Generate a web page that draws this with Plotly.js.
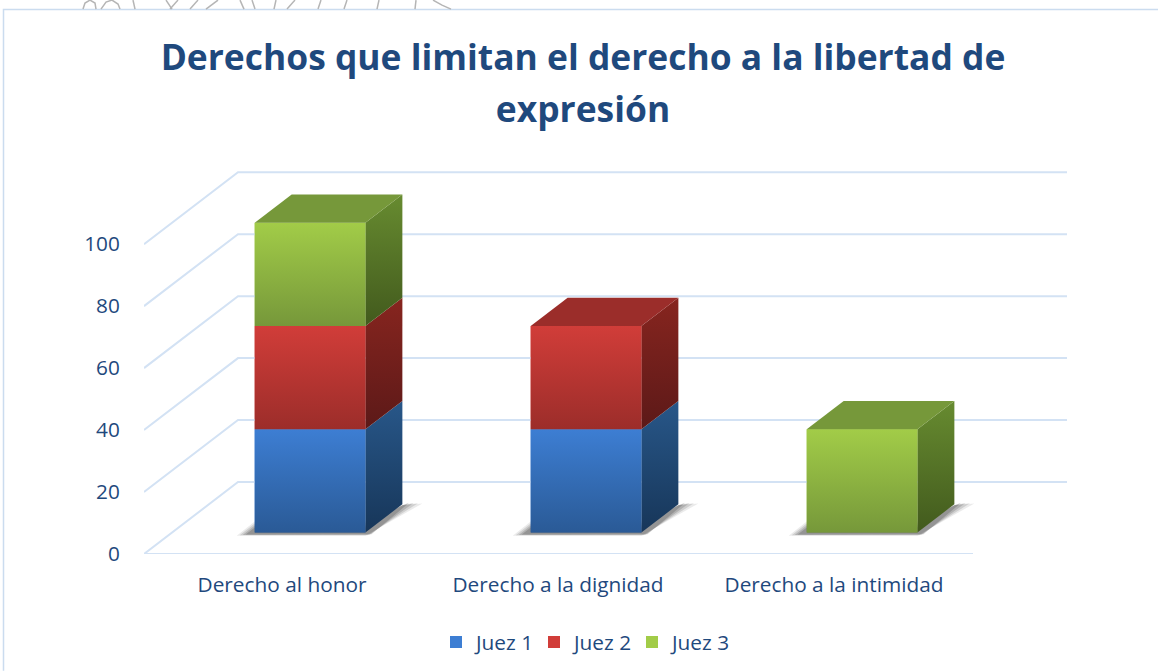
<!DOCTYPE html>
<html><head><meta charset="utf-8">
<script src="https://cdn.plot.ly/plotly-3.0.1.min.js"></script>
<style>html,body{margin:0;padding:0;background:#fff;overflow:hidden}</style>
</head><body><div id="chart" style="width:1158px;height:671px"></div>
<script>
const categories = ["Derecho al honor", "Derecho a la dignidad", "Derecho a la intimidad"];
const seriesNames = ["Juez 1", "Juez 2", "Juez 3"];
const juez1 = [33.33, 33.33, 0];
const juez2 = [33.33, 33.33, 0];
const juez3 = [33.33, 0, 33.33];
const yTicks = [0, 20, 40, 60, 80, 100];
const titleLine1 = "Derechos que limitan el derecho a la libertad de";
const titleLine2 = "expresión";

const series = [juez1, juez2, juez3];
const frontCol = [["#2a5a96","#3d7ed3"],["#9c2d2a","#d13d39"],["#76983a","#a2cc48"]];
const sideCol  = [["#173659","#285789"],["#5c1918","#87251f"],["#425a1d","#678b30"]];
const topCol   = ["#2c5d9a","#9b2d2a","#76983a"];
const ink = "#1f497d", grid = "#d3e2f4", FONT = "'Open Sans', sans-serif";

// plot geometry (page is fixed size)
const L=144, R=1067, B=554.2, T=171, W=1158, H=671;
const pxX = 276, pxY = 3.1;                    // pixels per category / per value unit
const xr = [-0.5, -0.5 + (R-L)/pxX], yr = [0, (B-T)/pxY];
const DX = 94/pxX, DY = 72/pxY;                // full floor depth in data units
const FR = 0.2986, DP = 0.393;                 // bar front position and bar depth (share of floor depth)
const BW = 110.7/pxX;                          // bar width

const traces = [];
const poly = (pts, extra) => traces.push(Object.assign({
  type:"scatter", mode:"lines", x:[...pts.map(p=>p[0]),pts[0][0]], y:[...pts.map(p=>p[1]),pts[0][1]],
  fill:"toself", line:{width:0}, hoverinfo:"skip", showlegend:false, cliponaxis:false}, extra));

// real bars: values, scale and legend
series.forEach((vals,s)=>{
  const base = vals.map((v,i)=>{let c=FR*DY; for(let k=0;k<s;k++) c+=series[k][i]; return c;});
  traces.push({type:"bar", name:seriesNames[s], x:categories.map((_,i)=>i+FR*DX), y:vals, base,
    width:BW, marker:{color:frontCol[s][1]}, hoverinfo:"name+y"});
});

// oblique walls
const line = (xs,ys,c)=>traces.push({type:"scatter",mode:"lines",x:xs,y:ys,line:{color:c||grid,width:2},
  hoverinfo:"skip",showlegend:false,cliponaxis:false});
yTicks.forEach(v=>{
  line([xr[0],xr[0]+DX,xr[1]],[v,v+DY,v+DY]);
});
line([xr[0],xr[1]-DX],[0,0]);

// soft floor shadows, nested translucent layers
const sx=p=>p/pxX, sy=p=>p/pxY;
categories.forEach((_,i)=>{
  const x0=i+FR*DX-BW/2, x1=x0+BW, y0=FR*DY;
  [[0,.10],[2,.16],[4,.20],[6,.24]].forEach(([g,a])=>{
    poly([[x0-sx(18-g*1.5),y0-sy(3.2-g*.2)],[x0,y0+sy(11-g)],[x1,y0+sy(11-g)],
          [x1+DP*DX,y0+DP*DY+sy(-1)],[x1+DP*DX+sx(20-g*2.2),y0+DP*DY+sy(.8+g*.1)],
          [x1+sx(g),y0-sy(3.2-g*.25)]],{fillcolor:`rgba(60,60,60,${a})`});
  });
});

// faces
categories.forEach((_,i)=>{
  const x0=i+FR*DX-BW/2, x1=x0+BW, ddx=DP*DX, ddy=DP*DY;
  let c=FR*DY, lastS=-1, lastTop=c;
  series.forEach((vals,s)=>{
    const v=vals[i]; if(!v) return;
    const a=c, b=c+v;
    poly([[x1,a],[x1+ddx,a+ddy],[x1+ddx,b+ddy],[x1,b]],
      {fillgradient:{type:"vertical",colorscale:[[0,sideCol[s][0]],[1,sideCol[s][1]]]}});
    poly([[x0,a],[x1,a],[x1,b],[x0,b]],
      {fillgradient:{type:"vertical",colorscale:[[0,frontCol[s][0]],[1,frontCol[s][1]]]}});
    c=b; lastS=s; lastTop=b;
  });
  poly([[x0,lastTop],[x1,lastTop],[x1+ddx,lastTop+ddy],[x0+ddx,lastTop+ddy]],{fillcolor:topCol[lastS]});
});

// helpers for page-pixel shapes
const fx=p=>(p-L)/(R-L), fy=p=>(B-p)/(B-T);
const path=(pts)=>"M"+pts.map(p=>fx(p[0])+" "+fy(p[1])).join("L");
const sketch = [
 [[83,9],[85,3],[90,0],[95,3],[96,9]],[[101,9],[106,2],[112,0],[118,4],[120,9]],[[133,0],[135,9]],
 [[166,0],[172,9]],[[178,0],[170,9]],[[198,0],[190,9]],[[218,0],[206,9]],[[240,0],[244,9]],[[252,0],[255,9]],
 [[276,0],[274,9]],[[295,0],[287,9]],[[321,0],[318,9]],[[347,0],[344,9]],[[379,0],[377,9]],[[416,0],[415,9]],
 [[433,0],[442,5],[451,9]]
].map(s=>({type:"path",xref:"paper",yref:"paper",path:path(s),line:{color:"#b5b5b5",width:1.5},layer:"below"}));

const layout = {
  width:W, height:H, margin:{l:L,r:W-R,t:T,b:H-B,pad:0},
  paper_bgcolor:"#fff", plot_bgcolor:"rgba(0,0,0,0)", barmode:"overlay", showlegend:true,
  font:{family:FONT,color:ink,size:20.8},
  title:{text:`<span style="font-size:35.4px">${titleLine1}</span><br><span style="font-size:35.4px">${titleLine2}</span>`,
    font:{family:FONT,size:40,color:ink,weight:700},xref:"container",yref:"container",x:583/W,xanchor:"center",y:1-70/H,yanchor:"top"},
  xaxis:{range:xr,tickmode:"array",tickvals:categories.map((_,i)=>i),ticktext:categories,showgrid:false,zeroline:false,
    showline:false,ticks:"outside",ticklen:12.5,tickcolor:"rgba(0,0,0,0)",tickfont:{family:FONT,size:20.8,color:ink},fixedrange:true},
  yaxis:{range:yr,tickmode:"array",tickvals:yTicks,showgrid:false,zeroline:false,showline:false,
    ticks:"outside",ticklen:19,tickcolor:"rgba(0,0,0,0)",tickfont:{family:FONT,size:20.8,color:ink},fixedrange:true},
  legend:{orientation:"h",xref:"container",yref:"container",x:583/W,xanchor:"center",y:1-622/H,yanchor:"top",
    font:{family:FONT,size:20.8,color:ink},entrywidth:53,entrywidthmode:"pixels",bgcolor:"rgba(0,0,0,0)",traceorder:"normal"},
  shapes:[{type:"path",xref:"paper",yref:"paper",path:path([[3.5,H],[3.5,9.5],[W,9.5]]),line:{color:"#cbdcef",width:1.5},layer:"below"},...sketch]
};
Plotly.newPlot("chart",traces,layout,{displayModeBar:false,responsive:false});
</script></body></html>
